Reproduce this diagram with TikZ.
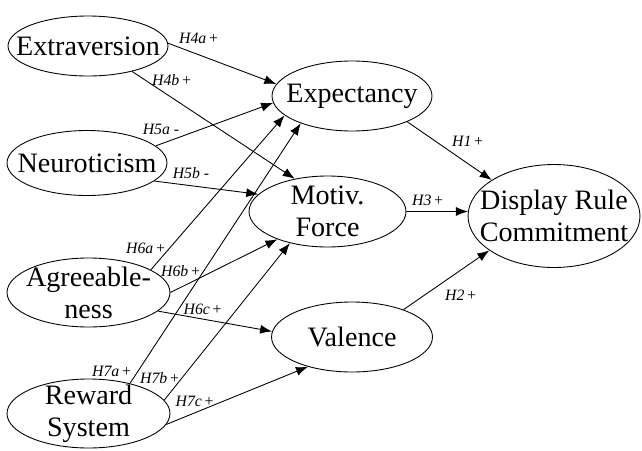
\documentclass[tikz,border=0pt]{standalone}
\usepackage{fontspec}
\setmainfont{Liberation Serif}
\usetikzlibrary{arrows.meta}
\usetikzlibrary{shapes,shapes.geometric}
\tikzset{>={Latex[length=2.4mm,width=1.8mm]}}
\tikzset{
  construct/.style={draw, ellipse, inner sep=0pt, line width=0.5pt},
  every label/.style={align=center, font=\fontsize{16}{18.3}\selectfont},
  hyp/.style={font=\fontsize{9}{10}\selectfont\itshape, inner sep=1pt},
  link/.style={->, line width=0.5pt}
}

\begin{document}
\begin{tikzpicture}[x=0.02cm, y=-0.02cm]
      \useasboundingbox (0,0) rectangle (642,450);
      % antecedents
      \node[construct, minimum width=3.2cm, minimum height=1.2cm, label=center:Extraversion] (ext) at (88,46) {};
      \node[construct, minimum width=3.2cm, minimum height=1.3cm, label=center:Neuroticism] (neu) at (87,163) {};
      \node[construct, minimum width=3.26cm, minimum height=1.38cm, label={center:Agreeable-\\ness}] (agr) at (88.5,292.5) {};
      \node[construct, minimum width=3.26cm, minimum height=1.38cm, label={center:Reward\\System}] (rew) at (88.5,413.5) {};
      % expectancy theory components
      \node[construct, minimum width=3.2cm, minimum height=1.4cm, label=center:Expectancy] (exp) at (352,96) {};
      \node[construct, minimum width=3.14cm, minimum height=1.42cm, label={center:Motiv.\\Force}] (mot) at (327.5,211.5) {};
      \node[construct, minimum width=3.22cm, minimum height=1.4cm, label=center:Valence] (val) at (352,337) {};
      % outcome
      \node[construct, minimum width=3.44cm, minimum height=2.06cm, label={center:Display Rule\\Commitment}] (drc) at (554,216) {};

      \draw[link] (ext.2) -- (exp.171) ;
      \draw[link] (ext.-30) -- (mot.135) ;
      \draw[link] (neu.14) -- (exp.185) ;
      \draw[link] (neu.-15) -- (mot.166) ;
      \draw[link] (agr.20) -- (exp.196) ;
      \draw[link] (agr.0) -- (mot.209) ;
      \draw[link] (agr.-15) -- (val.176) ;
      \draw[link] (rew.36) -- (exp.208) ;
      \draw[link] (rew.10) -- (mot.220) ;
      \draw[link] (rew.-8) -- (val.214) ;
      \draw[link] (exp.-25) -- (drc.150) ;
      \draw[link] (mot.0) -- (drc.177) ;
      \draw[link] (val.28) -- (drc.208) ;

      \node[hyp] (h4a) at (199,38) {H4a\kern1pt+};
      \node[hyp] (h4b) at (172,80) {H4b\kern1pt+};
      \node[hyp] (h5a) at (161,129) {H5a -};
      \node[hyp] (h5b) at (191,173) {H5b -};
      \node[hyp] (h6a) at (146,248) {H6a\kern1pt+};
      \node[hyp] (h6b) at (181,271) {H6b\kern1pt+};
      \node[hyp] (h6c) at (203,309) {H6c\kern1pt+};
      \node[hyp] (h7a) at (112,371) {H7a\kern1pt+};
      \node[hyp] (h7b) at (160,378) {H7b\kern1pt+};
      \node[hyp] (h7c) at (195,401) {H7c\kern1pt+};
      \node[hyp] (h1) at (468,141) {H1\kern1pt+};
      \node[hyp] (h3) at (428,200) {H3\kern1pt+};
      \node[hyp] (h2) at (461,295) {H2\kern1pt+};
    \end{tikzpicture}
\end{document}
